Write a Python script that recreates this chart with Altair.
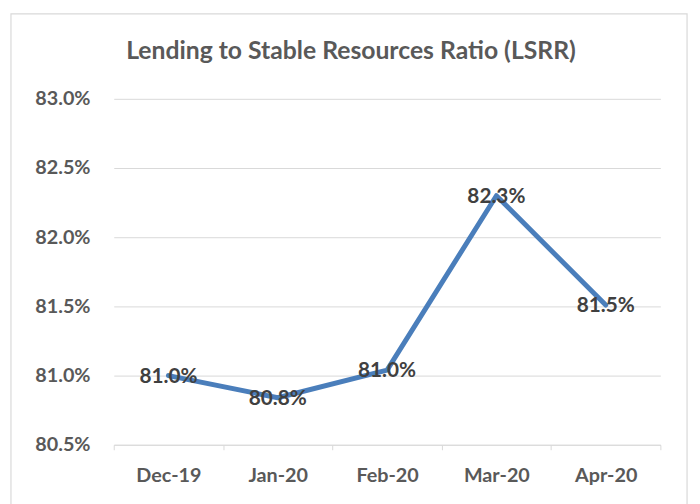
import altair as alt
import pandas as pd

months = ["Dec-19", "Jan-20", "Feb-20", "Mar-20", "Apr-20"]
lsrr = [81.0, 80.84, 81.04, 82.30, 81.51]
y_ticks = [80.5, 81.0, 81.5, 82.0, 82.5, 83.0]
title_text = "Lending to Stable Resources Ratio (LSRR)"

df = pd.DataFrame({"month": months, "value": lsrr})
df["label"] = [f"{v:.1f}%" for v in lsrr]

FONT = "Lato"
W, H = 553, 350

x_enc = alt.X(
    "month:N",
    sort=months,
    scale=alt.Scale(type="band", paddingInner=0, paddingOuter=0),
    bandPosition=0.5,
    axis=alt.Axis(
        title=None,
        labelAngle=0,
        tickBand="extent",
        domainColor="#d9d9d9",
        tickColor="#d9d9d9",
        tickSize=5,
        labelPadding=16,
        labelFont=FONT,
        labelFontWeight="bold",
        labelFontSize=20,
        labelColor="#595959",
        grid=False,
    ),
)
y_enc = alt.Y(
    "value:Q",
    scale=alt.Scale(domain=[80.5, 83.0], nice=False, zero=False),
    axis=alt.Axis(
        title=None,
        values=y_ticks,
        labelExpr="format(datum.value, '.1f') + '%'",
        domain=False,
        ticks=False,
        grid=True,
        gridColor="#d9d9d9",
        gridWidth=1,
        labelPadding=24,
        labelFont=FONT,
        labelFontWeight="bold",
        labelFontSize=20,
        labelColor="#595959",
    ),
)

base = alt.Chart(df)

line = base.mark_line(color="#4a7ebb", strokeWidth=5, strokeJoin="round", strokeCap="round").encode(
    x=x_enc, y=y_enc
)

labels = base.mark_text(
    font=FONT, fontWeight="bold", fontSize=21, color="#404040", baseline="middle", align="center", dy=1
).encode(x=alt.X("month:N", sort=months, bandPosition=0.5), y="value:Q", text="label:N")

frame = alt.Chart(pd.DataFrame({"a": [0]})).mark_rect(
    fill=None, stroke="#d9d9d9", strokeWidth=1.2, clip=False
).encode(
    x=alt.value(-104), x2=alt.value(580), y=alt.value(-86), y2=alt.value(420)
)

title = alt.Chart(pd.DataFrame({"t": [title_text]})).mark_text(
    font=FONT, fontWeight="bold", fontSize=25, color="#595959", align="center", baseline="alphabetic"
).encode(x=alt.value(240), y=alt.value(-40), text="t:N")

chart = alt.layer(frame, line, labels, title).properties(
    width=W,
    height=H,
    padding={"left": 107, "top": 89, "right": 32, "bottom": 57},
    autosize=alt.AutoSizeParams(type="none"),
    background="white",
).configure_view(stroke=None)

chart.save("out.html", embed_options={"renderer": "svg", "actions": False})
